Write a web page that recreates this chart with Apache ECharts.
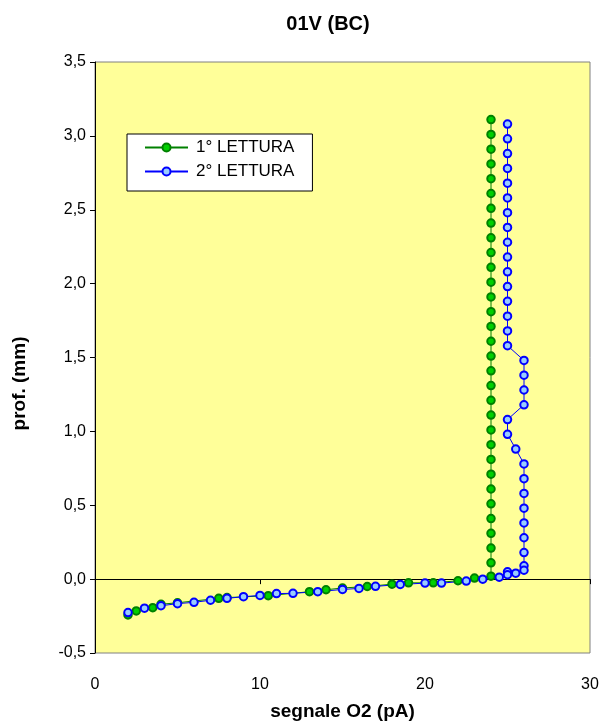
<!DOCTYPE html>
<html lang="it">
<head>
  <meta charset="UTF-8">
  <title>01V (BC)</title>
  <style>
    html, body { margin: 0; padding: 0; background: #fff; }
    #chart { width: 602px; height: 726px; }
  </style>
</head>
<body>
  <div id="chart"></div>
  <script src="https://cdn.jsdelivr.net/npm/echarts/dist/echarts.min.js"></script>
  <script>
    // assi
    const xMin = 0, xMax = 30, xStep = 10
    const yMin = -0.5, yMax = 3.5, yStep = 0.5

    // 1° lettura: segnale O2 (pA) e profondita (mm)
    const lettura1X = [24, 24, 24, 24, 24, 24, 24, 24, 24, 24, 24, 24, 24, 24, 24, 24,
      24, 24, 24, 24, 24, 24, 24, 24, 24, 24, 24, 24, 24, 24, 24,
      24, 23, 22, 20.5, 19, 18, 16.5, 15, 14, 13, 10.5, 8, 7.5, 5, 4, 3.5, 2.5, 2]
    const lettura1Y = [3.11, 3.01, 2.91, 2.81, 2.71, 2.61, 2.51, 2.41, 2.31, 2.21, 2.11, 2.01, 1.91, 1.81, 1.71, 1.61,
      1.51, 1.41, 1.31, 1.21, 1.11, 1.01, 0.91, 0.81, 0.71, 0.61, 0.51, 0.41, 0.31, 0.21, 0.11,
      0.02, 0.007, -0.011, -0.025, -0.025, -0.034, -0.05, -0.06, -0.072, -0.085, -0.112, -0.125, -0.13, -0.16, -0.17, -0.193, -0.215, -0.242]

    // 2° lettura
    const lettura2X = [25, 25, 25, 25, 25, 25, 25, 25, 25, 25, 25, 25, 25, 25, 25, 25,
      26, 26, 26, 26, 25, 25, 25.5, 26, 26, 26, 26, 26, 26, 26, 26, 26,
      25.5, 25, 25, 24.5, 23.5, 22.5, 21, 20, 18.5, 17, 16, 15, 13.5, 12, 11, 10, 9, 8, 7, 6, 5, 4, 3, 2]
    const lettura2Y = [3.08, 2.98, 2.88, 2.78, 2.68, 2.58, 2.48, 2.38, 2.28, 2.18, 2.08, 1.98, 1.88, 1.78, 1.68, 1.58,
      1.48, 1.38, 1.28, 1.18, 1.08, 0.98, 0.88, 0.78, 0.68, 0.58, 0.48, 0.38, 0.28, 0.18, 0.09, 0.06,
      0.04, 0.05, 0.03, 0.013, 0, -0.013, -0.027, -0.027, -0.036, -0.049, -0.063, -0.07, -0.085, -0.096, -0.098,
      -0.11, -0.119, -0.13, -0.143, -0.157, -0.166, -0.18, -0.197, -0.226]

    const font = 'Liberation Sans, Arial, sans-serif'
    const zip = (xs, ys) => xs.map((x, i) => [x, ys[i]])
    const comma = v => v.toFixed(1).replace('.', ',')

    const myChart = echarts.init(document.getElementById('chart'))

    const option = {
      animation: false,
      backgroundColor: '#ffffff',
      textStyle: { fontFamily: font },
      title: {
        text: '01V (BC)',
        left: 323,
        textAlign: 'center',
        top: 9,
        textStyle: { fontSize: 20, fontWeight: 'bold', color: '#000', fontFamily: font }
      },
      legend: {
        orient: 'vertical',
        left: 127,
        top: 134,
        backgroundColor: '#ffffff',
        borderColor: '#000000',
        borderWidth: 1,
        padding: [5, 18, 11, 17],
        itemWidth: 43,
        itemHeight: 10,
        itemGap: 7,
        textStyle: { fontSize: 17, color: '#000', fontFamily: font, padding: [0, 0, 0, 3] },
        data: ['1° LETTURA', '2° LETTURA']
      },
      grid: {
        left: 95,
        right: 12,
        top: 62,
        bottom: 68,
        show: true,
        backgroundColor: '#ffff99',
        borderColor: '#808080',
        borderWidth: 1
      },
      xAxis: [
        {
          type: 'value',
          position: 'bottom',
          min: xMin, max: xMax, interval: xStep,
          name: 'segnale O2 (pA)',
          nameLocation: 'middle',
          nameGap: 49,
          nameTextStyle: { fontSize: 19, fontWeight: 'bold', color: '#000', fontFamily: font },
          axisLine: { show: false, onZero: false },
          axisTick: { show: false },
          splitLine: { show: false },
          axisLabel: { fontSize: 16, color: '#000', margin: 24, fontFamily: font }
        },
        {
          // linea dello zero con le tacche
          type: 'value',
          position: 'bottom',
          min: xMin, max: xMax, interval: xStep,
          axisLine: { show: true, onZero: true, onZeroAxisIndex: 0, lineStyle: { color: '#000', width: 1 } },
          axisTick: { show: true, length: 5, lineStyle: { color: '#000' } },
          axisLabel: { show: false },
          splitLine: { show: false }
        }
      ],
      yAxis: {
        type: 'value',
        min: yMin, max: yMax, interval: yStep,
        name: 'prof. (mm)',
        nameLocation: 'middle',
        nameGap: 66,
        nameTextStyle: { fontSize: 19, fontWeight: 'bold', color: '#000', fontFamily: font, padding: [0, 52, 0, 0] },
        axisLine: { show: true, onZero: false, lineStyle: { color: '#000', width: 1 } },
        axisTick: { show: true, length: 5, lineStyle: { color: '#000' } },
        splitLine: { show: false },
        axisLabel: { fontSize: 16, color: '#000', margin: 9, fontFamily: font, formatter: comma }
      },
      series: [
        {
          name: '1° LETTURA',
          type: 'line',
          xAxisIndex: 0,
          data: zip(lettura1X, lettura1Y),
          symbol: 'circle',
          symbolSize: 7.5,
          showAllSymbol: true,
          lineStyle: { color: '#008000', width: 1 },
          itemStyle: { color: '#00d000', borderColor: '#008000', borderWidth: 2 }
        },
        {
          name: '2° LETTURA',
          type: 'line',
          xAxisIndex: 0,
          data: zip(lettura2X, lettura2Y),
          symbol: 'circle',
          symbolSize: 7.5,
          showAllSymbol: true,
          lineStyle: { color: '#0000ff', width: 1 },
          itemStyle: { color: '#99ccff', borderColor: '#0000ff', borderWidth: 2 }
        }
      ]
    }

    myChart.setOption(option)
  </script>
</body>
</html>
